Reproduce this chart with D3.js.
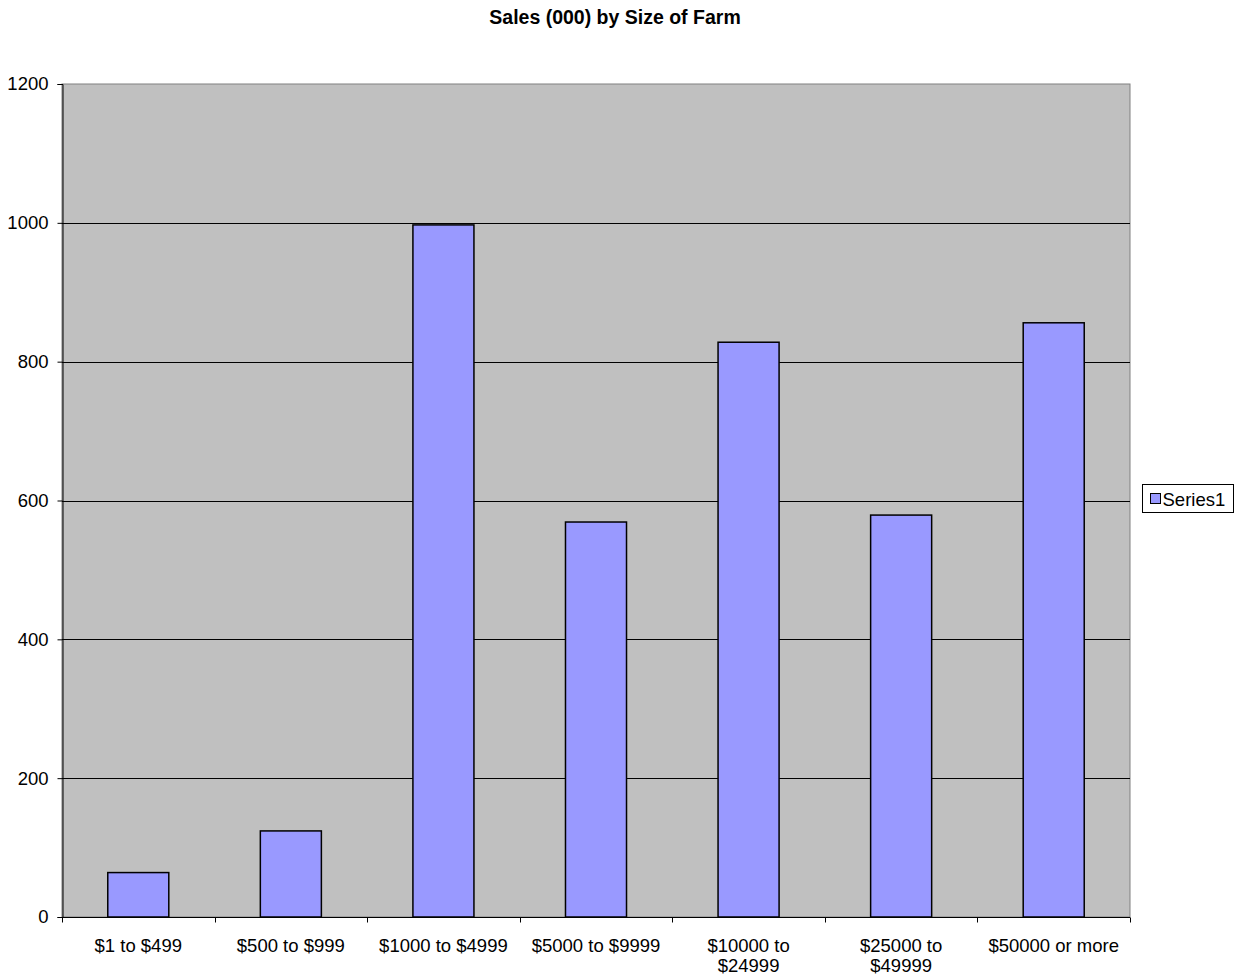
<!DOCTYPE html>
<html>
<head>
<meta charset="utf-8">
<script src="https://cdn.jsdelivr.net/npm/d3@7"></script>
<style>
  body { margin: 0; background: #fff; }
  text { font-family: "Liberation Sans", Arial, sans-serif; }
</style>
</head>
<body>
<div id="chart"></div>
<script>
const categories = [
    ["$1 to $499"],
    ["$500 to $999"],
    ["$1000 to $4999"],
    ["$5000 to $9999"],
    ["$10000 to", "$24999"],
    ["$25000 to", "$49999"],
    ["$50000 or more"]
];
const sales = [64, 124, 997, 569, 828, 579, 856];
const yTicks = [0, 200, 400, 600, 800, 1000, 1200];
const seriesName = "Series1";
const title = "Sales (000) by Size of Farm";

const width = 1236, height = 978;
const margin = {top: 84, right: 106, bottom: 61, left: 62};
const fs = 18.5;

const svg = d3.select("#chart").append("svg")
    .attr("width", width)
    .attr("height", height);

// title
svg.append("text")
    .attr("x", 615)
    .attr("y", 24)
    .attr("text-anchor", "middle")
    .attr("font-size", 19.5)
    .attr("font-weight", "bold")
    .text(title);

const idx = d3.range(categories.length);
const x = d3.scaleBand()
    .domain(idx)
    .range([margin.left, width - margin.right])
    .paddingInner(0.6)
    .paddingOuter(0.3);
const step = x.step();

const y = d3.scaleLinear()
    .domain([0, 1200])
    .range([height - margin.bottom, margin.top]);

// plot area
svg.append("rect")
    .attr("x", margin.left)
    .attr("y", margin.top)
    .attr("width", width - margin.left - margin.right)
    .attr("height", height - margin.top - margin.bottom)
    .attr("fill", "#c0c0c0")
    .attr("stroke", "#808080")
    .attr("stroke-width", 1);

// gridlines
svg.append("g")
    .selectAll("line")
    .data(yTicks.filter(d => d > 0 && d < 1200))
    .join("line")
    .attr("x1", margin.left)
    .attr("x2", width - margin.right)
    .attr("y1", d => Math.round(y(d)) + 0.5)
    .attr("y2", d => Math.round(y(d)) + 0.5)
    .attr("stroke", "#000")
    .attr("stroke-width", 1);

// bars
svg.append("g")
    .selectAll("rect")
    .data(sales)
    .join("rect")
    .attr("x", (d, i) => x(i))
    .attr("y", d => y(d))
    .attr("width", x.bandwidth())
    .attr("height", d => y(0) - y(d))
    .attr("fill", "#9999ff")
    .attr("stroke", "#000")
    .attr("stroke-width", 1.5);

// y axis
const yAxis = d3.axisLeft(y).tickValues(yTicks).tickFormat(d3.format("d")).tickSize(5).tickPadding(9);
svg.append("g")
    .attr("transform", `translate(${margin.left + 0.5},0)`)
    .call(yAxis)
    .call(g => g.select(".domain").attr("stroke", "#000"))
    .call(g => g.selectAll(".tick line").attr("stroke", "#000"))
    .call(g => g.selectAll(".tick text")
        .attr("font-size", fs)
        .attr("fill", "#000")
        .attr("font-family", "Liberation Sans, Arial, sans-serif"));

// x axis line + boundary ticks
const xg = svg.append("g");
const y0 = Math.round(y(0)) + 0.5;
xg.append("line")
    .attr("x1", margin.left)
    .attr("x2", width - margin.right)
    .attr("y1", y0)
    .attr("y2", y0)
    .attr("stroke", "#000");
xg.selectAll("line.tk")
    .data(d3.range(categories.length + 1))
    .join("line")
    .attr("class", "tk")
    .attr("x1", i => Math.round(margin.left + i * step) + 0.5)
    .attr("x2", i => Math.round(margin.left + i * step) + 0.5)
    .attr("y1", y0)
    .attr("y2", y0 + 5)
    .attr("stroke", "#000");

// category labels
xg.selectAll("text.lbl")
    .data(categories)
    .join("text")
    .attr("class", "lbl")
    .attr("x", (d, i) => x(i) + x.bandwidth() / 2)
    .attr("y", y0 + 34)
    .attr("text-anchor", "middle")
    .attr("font-size", fs)
    .each(function (d) {
        d3.select(this).selectAll("tspan")
            .data(d)
            .join("tspan")
            .attr("x", d3.select(this).attr("x"))
            .attr("dy", (t, j) => j === 0 ? 0 : 20)
            .text(t => t);
    });

// legend
const lg = svg.append("g").attr("transform", "translate(1142.5,484.5)");
lg.append("rect")
    .attr("width", 91)
    .attr("height", 28)
    .attr("fill", "#fff")
    .attr("stroke", "#000");
lg.append("rect")
    .attr("x", 8)
    .attr("y", 9)
    .attr("width", 10)
    .attr("height", 10)
    .attr("fill", "#9999ff")
    .attr("stroke", "#000");
lg.append("text")
    .attr("x", 20)
    .attr("y", 21)
    .attr("font-size", fs)
    .text(seriesName);
</script>
</body>
</html>
